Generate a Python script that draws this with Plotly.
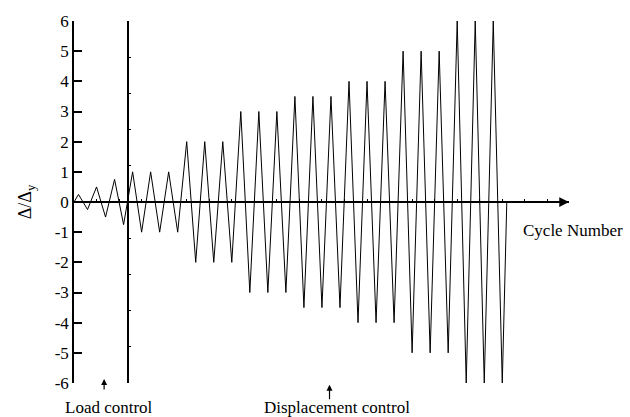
import plotly.graph_objects as go

# Loading protocol (Δ/Δy per cycle)
cycle_peaks = [0.25, 0.5, 0.75, 1, 1, 1, 2, 2, 2, 3, 3, 3,
               3.5, 3.5, 3.5, 4, 4, 4, 5, 5, 5, 6, 6, 6]
cycle_troughs = [-0.25, -0.5, -0.75, -1, -1, -1, -2, -2, -2, -3, -3, -3,
                 -3.5, -3.5, -3.5, -4, -4, -4, -5, -5, -5, -6, -6, -6]
load_control_cycles = 3
y_ticks = [-6, -5, -4, -3, -2, -1, 0, 1, 2, 3, 4, 5, 6]
y_tick_text = ["-6", "-5", "-4", "-3", "-2", "-1", "0", "1", "2", "3", "4", "5", "6"]

# build the displacement history: each cycle = peak at +1/4, trough at +3/4
xs = [0]
ys = [0]
for i, (p, t) in enumerate(zip(cycle_peaks, cycle_troughs)):
    xs += [i + 0.25, i + 0.75]
    ys += [p, t]
xs.append(len(cycle_peaks))
ys.append(0)

FONT = "Liberation Serif, Times New Roman, serif"
X_MAX = 27.45

fig = go.Figure()
fig.add_trace(go.Scatter(x=xs, y=ys, mode="lines",
                         line=dict(color="black", width=1),
                         showlegend=False, hoverinfo="skip"))
# dummy trace so the secondary (load/displacement divider) axis is drawn
fig.add_trace(go.Scatter(x=[load_control_cycles], y=[0], yaxis="y2",
                         mode="markers", marker=dict(opacity=0),
                         showlegend=False, hoverinfo="skip"))

fig.update_layout(
    width=630, height=417,
    margin=dict(l=74, r=61, t=21, b=34),
    paper_bgcolor="white", plot_bgcolor="white",
    font=dict(family=FONT, size=17, color="black"),
    xaxis=dict(range=[0, X_MAX], anchor="free", position=0.5,
               showgrid=False, zeroline=False, showline=True,
               linecolor="black", linewidth=1.5,
               tickmode="linear", tick0=0, dtick=1.25,
               ticks="inside", ticklen=2, tickwidth=1, tickcolor="black",
               showticklabels=False),
    yaxis=dict(range=[-6, 6], showgrid=False, zeroline=False,
               showline=True, linecolor="black", linewidth=1.5,
               tickvals=y_ticks, ticktext=y_tick_text,
               tickfont=dict(family=FONT, size=17, color="black"),
               ticks="inside", ticklen=8, tickwidth=1.5, tickcolor="black",
               title=dict(text="Δ/Δ<sub>y</sub>",
                          font=dict(family=FONT, size=18), standoff=18)),
    yaxis2=dict(range=[-6, 6], overlaying="y", anchor="free",
                position=load_control_cycles / X_MAX,
                showgrid=False, zeroline=False, showline=True,
                linecolor="black", linewidth=1.5,
                tickmode="linear", tick0=-6, dtick=1.2,
                ticks="inside", ticklen=2, tickwidth=1, tickcolor="black",
                showticklabels=False),
)

annotations = [
    # x-axis arrow head
    dict(x=X_MAX, y=0, xref="x", yref="y", ax=-14, ay=0, text="",
         showarrow=True, arrowhead=2, arrowsize=1.3, arrowwidth=1.5,
         arrowcolor="black"),
    dict(x=0.903, y=0.42, xref="paper", yref="paper", text="Cycle Number",
         showarrow=False, xanchor="left", yanchor="middle"),
    # control region labels
    dict(x=1.94, y=-0.068, xref="x", yref="paper", text="Load control",
         showarrow=False, xanchor="center", yanchor="middle"),
    dict(x=14.6, y=-0.068, xref="x", yref="paper", text="Displacement control",
         showarrow=False, xanchor="center", yanchor="middle"),
    dict(x=1.67, y=0.011, xref="x", yref="paper", ax=0, ay=12, text="",
         showarrow=True, arrowhead=2, arrowsize=1, arrowwidth=1.2,
         arrowcolor="black"),
    dict(x=14.17, y=-0.005, xref="x", yref="paper", ax=0, ay=16, text="",
         showarrow=True, arrowhead=2, arrowsize=1, arrowwidth=1.2,
         arrowcolor="black"),
]
fig.update_layout(annotations=annotations)

fig.write_html("out.html",
               config={"displayModeBar": False},
               post_script="document.body.style.margin='0';"
                           "document.body.style.overflow='hidden';")
